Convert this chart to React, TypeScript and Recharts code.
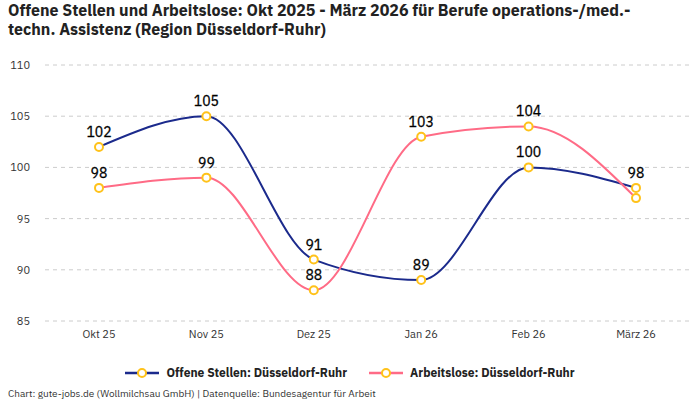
import { LineChart, Line, XAxis, YAxis, CartesianGrid, LabelList } from 'recharts';

const months = ['Okt 25', 'Nov 25', 'Dez 25', 'Jan 26', 'Feb 26', 'März 26'];
const offeneStellen = [102, 105, 91, 89, 100, 98];
const arbeitslose = [98, 99, 88, 103, 104, 97];
const yTicks = [85, 90, 95, 100, 105, 110];

const BLUE = '#1b2a8c';
const PINK = '#ff6b86';
const DOT = '#ffc21a';
const FONT = '"IBM Plex Sans", "Liberation Sans Narrow", Roboto, sans-serif';

const data = months.map((month, i) => ({
  month,
  offen: offeneStellen[i],
  arbeitslos: arbeitslose[i],
}));

// label of the overlapping last point is hidden in the original
const makeLabel = (hideLast: boolean) => (props: any) => {
  const { x, y, value, index } = props;
  if (hideLast && index === months.length - 1) return null;
  return (
    <text x={x} y={y - 10} textAnchor="middle" fontSize={14} fill="#000" stroke="#000" strokeWidth={0.3} fontFamily={FONT}>
      {value}
    </text>
  );
};

const legendItems = [
  { name: 'Offene Stellen: Düsseldorf-Ruhr', color: BLUE },
  { name: 'Arbeitslose: Düsseldorf-Ruhr', color: PINK },
];

function ChartLegend() {
  return (
    <div style={{ position: 'absolute', left: 0, top: 365, width: 700, display: 'flex', justifyContent: 'center', gap: 22 }}>
      {legendItems.map((item) => (
        <div key={item.name} style={{ display: 'flex', alignItems: 'center', gap: 7 }}>
          <svg width={34} height={12}>
            <line x1={0} y1={6} x2={34} y2={6} stroke={item.color} strokeWidth={2.5} />
            <circle cx={17} cy={6} r={4} fill="#fff" stroke={DOT} strokeWidth={2} />
          </svg>
          <span style={{ fontSize: 12, fontWeight: 700, color: '#222' }}>{item.name}</span>
        </div>
      ))}
    </div>
  );
}

export default function App() {
  return (
    <div style={{ position: 'absolute', left: 0, top: 0, width: 700, height: 400, background: '#fff', fontFamily: FONT }}>
      <div style={{ position: 'absolute', left: 8, top: 1, fontSize: 16, fontWeight: 700, lineHeight: '19px', color: '#222' }}>
        Offene Stellen und Arbeitslose: Okt 2025 - März 2026 für Berufe operations-/med.-
        <br />
        techn. Assistenz (Region Düsseldorf-Ruhr)
      </div>
      <LineChart width={700} height={400} data={data} margin={{ top: 65, right: 10, bottom: 49, left: 0 }}>
        <CartesianGrid vertical={false} stroke="#cccccc" strokeDasharray="4 4" />
        <XAxis
          dataKey="month"
          height={30}
          axisLine={false}
          tickLine={false}
          tickSize={0}
          tickMargin={9}
          padding={{ left: 54, right: 54 }}
          tick={{ fontSize: 11, fill: '#333', fontFamily: FONT }}
        />
        <YAxis
          domain={[85, 110]}
          ticks={yTicks}
          width={45}
          axisLine={false}
          tickLine={false}
          tickSize={0}
          tickMargin={15}
          tick={{ fontSize: 11, fill: '#333', fontFamily: FONT }}
        />
        <Line
          type="monotone"
          dataKey="offen"
          name="Offene Stellen: Düsseldorf-Ruhr"
          stroke={BLUE}
          strokeWidth={2}
          dot={{ r: 4, fill: '#fff', stroke: DOT, strokeWidth: 2 }}
          isAnimationActive={false}
        >
          <LabelList dataKey="offen" content={makeLabel(false)} />
        </Line>
        <Line
          type="monotone"
          dataKey="arbeitslos"
          name="Arbeitslose: Düsseldorf-Ruhr"
          stroke={PINK}
          strokeWidth={2}
          dot={{ r: 4, fill: '#fff', stroke: DOT, strokeWidth: 2 }}
          isAnimationActive={false}
        >
          <LabelList dataKey="arbeitslos" content={makeLabel(true)} />
        </Line>
      </LineChart>
      <ChartLegend />
      <div style={{ position: 'absolute', left: 8, top: 387, fontSize: 10, color: '#333' }}>
        Chart: gute-jobs.de (Wollmilchsau GmbH) | Datenquelle: Bundesagentur für Arbeit
      </div>
    </div>
  );
}
